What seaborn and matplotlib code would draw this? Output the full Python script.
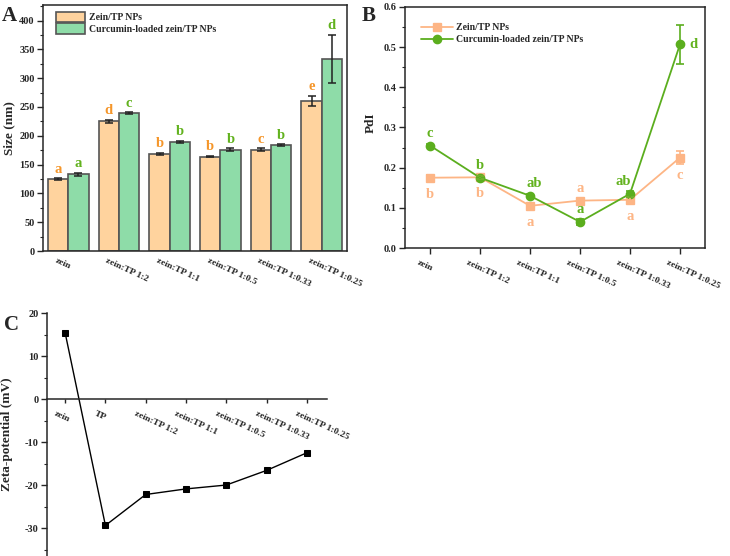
import matplotlib
matplotlib.use('Agg')
import matplotlib.pyplot as plt
import matplotlib.transforms as mtransforms
from matplotlib.ticker import MultipleLocator
import seaborn as sns
import numpy as np
import pandas as pd

# ---- data ----
groups = ['zein', 'zein:TP 1:2', 'zein:TP 1:1', 'zein:TP 1:0.5', 'zein:TP 1:0.33', 'zein:TP 1:0.25']
series = ['Zein/TP NPs', 'Curcumin-loaded zein/TP NPs']

size_zein = [125, 225, 168, 164, 176, 260]
size_zein_err = [1, 2, 2, 1.5, 2, 9]
size_cur = [133, 239, 189, 176, 184, 333]
size_cur_err = [2, 1.5, 2, 2, 1, 42]
size_zein_letters = ['a', 'd', 'b', 'b', 'c', 'e']
size_cur_letters = ['a', 'c', 'b', 'b', 'b', 'd']

pdi_zein = [0.175, 0.176, 0.105, 0.118, 0.120, 0.225]
pdi_zein_err = [0.006, 0.004, 0.006, 0.004, 0.008, 0.016]
pdi_cur = [0.255, 0.175, 0.130, 0.065, 0.135, 0.507]
pdi_cur_err = [0.004, 0.004, 0.004, 0.008, 0.007, 0.048]
pdi_zein_letters = ['b', 'b', 'a', 'a', 'a', 'c']
pdi_cur_letters = ['c', 'b', 'ab', 'a', 'ab', 'd']

zeta_labels = ['zein', 'TP', 'zein:TP 1:2', 'zein:TP 1:1', 'zein:TP 1:0.5', 'zein:TP 1:0.33', 'zein:TP 1:0.25']
zeta_vals = [15.5, -29.3, -22.1, -20.8, -19.9, -16.5, -12.4]

# ---- style ----
sns.set_style('ticks')
plt.rcParams['font.family'] = ['Liberation Serif', 'DejaVu Serif']
plt.rcParams['font.weight'] = 'bold'
plt.rcParams['axes.labelweight'] = 'bold'
plt.rcParams['axes.unicode_minus'] = False
plt.rcParams['axes.linewidth'] = 1.1
plt.rcParams['xtick.major.width'] = 1.0
plt.rcParams['ytick.major.width'] = 1.0
plt.rcParams['ytick.minor.width'] = 0.8
plt.rcParams['xtick.labelsize'] = 6.8
plt.rcParams['ytick.labelsize'] = 7.5

c_fill_or = '#FFD39E'
c_fill_gr = '#8EDCA8'
c_txt_or = '#F5962A'
c_txt_gr = '#62B21E'
c_line_or = '#FDB585'
c_line_gr = '#5BAE1E'

W, H = 730, 556
fig = plt.figure(figsize=(W / 100, H / 100), dpi=100)


def box(l, r, t, b):
    return [l / W, 1 - b / H, (r - l) / W, (b - t) / H]


def rotate_labels(ax, labels, shift=-11):
    ax.set_xticks(range(len(labels)))
    ax.set_xticklabels(labels, rotation=-25, ha='left', rotation_mode='anchor')
    off = mtransforms.ScaledTranslation(shift / 100, 0, fig.dpi_scale_trans)
    for lab in ax.get_xticklabels():
        lab.set_transform(lab.get_transform() + off)


def y_ticks(ax, major, minor):
    ax.yaxis.set_major_locator(MultipleLocator(major))
    ax.yaxis.set_minor_locator(MultipleLocator(minor))
    ax.tick_params(axis='y', which='major', length=4, pad=2)
    ax.tick_params(axis='y', which='minor', length=2.5)


# ---- A: size ----
axA = fig.add_axes(box(43, 347, 5, 251))
dfA = pd.DataFrame({
    'group': groups * 2,
    'size': size_zein + size_cur,
    'series': [series[0]] * 6 + [series[1]] * 6,
})
sns.barplot(data=dfA, x='group', y='size', hue='series', order=groups, hue_order=series,
            palette=[c_fill_or, c_fill_gr], edgecolor='#555555', linewidth=1.2,
            width=0.8, gap=0, errorbar=None, saturation=1, ax=axA)
x = np.arange(len(groups))
for dx, vals, errs, lets, col in [(-0.2, size_zein, size_zein_err, size_zein_letters, c_txt_or),
                                   (0.2, size_cur, size_cur_err, size_cur_letters, c_txt_gr)]:
    axA.errorbar(x + dx, vals, yerr=errs, fmt='none', ecolor='#222222', elinewidth=1.1,
                 capsize=3, capthick=1.1, zorder=5)
    for xi, v, e, l in zip(x + dx, vals, errs, lets):
        axA.annotate(l, (xi, v + e), xytext=(0, 2), textcoords='offset points',
                     ha='center', va='bottom', color=col, fontsize=10.5, fontweight='bold')
axA.set_xlim(-0.5, 5.5)
axA.set_ylim(0, 427)
y_ticks(axA, 50, 25)
axA.tick_params(axis='x', length=0, pad=4)
rotate_labels(axA, groups)
axA.set_xlabel('')
axA.set_ylabel('Size (nm)', fontsize=9.5)
axA.yaxis.set_label_coords(-0.092, 0.5)
axA.legend(loc='upper left', frameon=False, fontsize=7, handlelength=3.0, handleheight=1.3,
           borderaxespad=0.3, labelspacing=0.1, handletextpad=0.4,
           bbox_to_anchor=(0.02, 1.0))

# ---- B: PdI ----
axB = fig.add_axes(box(405, 705, 7, 248))
dfB = pd.DataFrame({
    'group': groups * 2,
    'pdi': pdi_zein + pdi_cur,
    'series': [series[0]] * 6 + [series[1]] * 6,
})
sns.pointplot(data=dfB, x='group', y='pdi', hue='series', order=groups, hue_order=series,
              palette=[c_line_or, c_line_gr], markers=['s', 'o'], markersize=6,
              linewidth=1.3, errorbar=None, ax=axB)
for vals, errs, col in [(pdi_zein, pdi_zein_err, c_line_or), (pdi_cur, pdi_cur_err, c_line_gr)]:
    axB.errorbar(x, vals, yerr=errs, fmt='none', ecolor=col, elinewidth=1.2,
                 capsize=3, capthick=1.2, zorder=4)
# letter offsets (points)
off_or = [(0, -12), (0, -12), (0, -12), (0, 9), (0, -12), (0, -13)]
off_gr = [(0, 9), (0, 9), (3, 9), (0, 9), (-5, 9), (10, 0)]
for xi, v, l, o in zip(x, pdi_zein, pdi_zein_letters, off_or):
    axB.annotate(l, (xi, v), xytext=o, textcoords='offset points', ha='center', va='center',
                 color=c_line_or, fontsize=10.5, fontweight='bold')
for xi, v, l, o in zip(x, pdi_cur, pdi_cur_letters, off_gr):
    axB.annotate(l, (xi, v), xytext=o, textcoords='offset points', ha='center', va='center',
                 color=c_txt_gr, fontsize=10.5, fontweight='bold')
axB.set_xlim(-0.5, 5.5)
axB.set_ylim(0, 0.6)
y_ticks(axB, 0.1, 0.05)
axB.yaxis.set_major_formatter(plt.FormatStrFormatter('%.1f'))
axB.tick_params(axis='x', length=4)
rotate_labels(axB, groups)
axB.set_xlabel('')
axB.set_ylabel('PdI', fontsize=9.5)
axB.yaxis.set_label_coords(-0.093, 0.52)
axB.legend(loc='upper left', frameon=False, fontsize=7, handlelength=3.3,
           borderaxespad=0.3, labelspacing=0.3, handletextpad=0.3,
           bbox_to_anchor=(0.03, 0.96))

# ---- C: zeta potential ----
axC = fig.add_axes(box(47, 327, 313, 556))
dfC = pd.DataFrame({'sample': zeta_labels, 'zeta': zeta_vals})
sns.pointplot(data=dfC, x='sample', y='zeta', order=zeta_labels, color='black',
              markers='s', markersize=5, linewidth=1.0, errorbar=None, ax=axC)
axC.set_xlim(-0.45, 6.5)
axC.set_ylim(-36.4, 20.1)
axC.spines['top'].set_visible(False)
axC.spines['right'].set_visible(False)
axC.spines['bottom'].set_position(('data', 0))
y_ticks(axC, 10, 5)
axC.tick_params(axis='x', length=3, pad=4)
rotate_labels(axC, zeta_labels, shift=-9)
axC.set_xlabel('')
axC.set_ylabel('Zeta-potential (mV)', fontsize=9.5)
axC.yaxis.set_label_coords(-0.121, 0.5)

# ---- panel letters ----
fig.text(2 / W, 1 - 6 / H, 'A', fontsize=15, fontweight='bold', va='top')
fig.text(362 / W, 1 - 6 / H, 'B', fontsize=15, fontweight='bold', va='top')
fig.text(4 / W, 1 - 315 / H, 'C', fontsize=15, fontweight='bold', va='top')

fig.savefig('out.png', dpi=100)
plt.close(fig)
